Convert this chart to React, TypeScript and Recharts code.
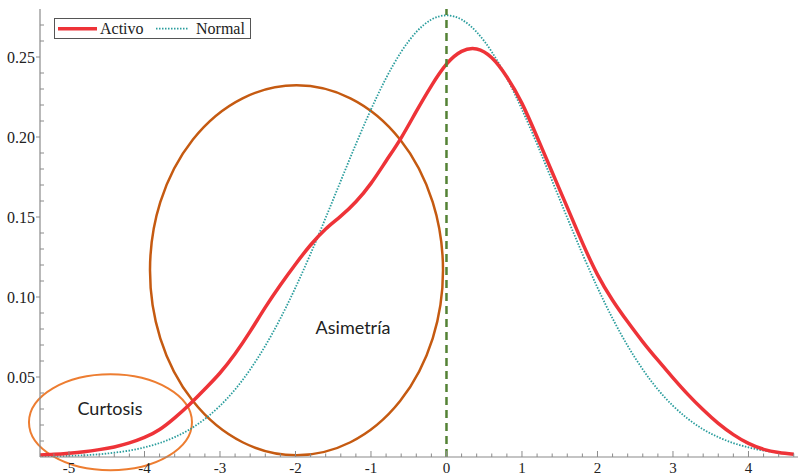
import React from 'react';
import { LineChart, Line, XAxis, YAxis, ReferenceLine, ReferenceArea, ReferenceDot, Legend } from 'recharts';

const xValues = [
  -5.4, -5.2, -5.0, -4.8, -4.6, -4.4, -4.2, -4.0, -3.8, -3.6,
  -3.4, -3.2, -3.0, -2.8, -2.6, -2.4, -2.2, -2.0, -1.8, -1.6,
  -1.4, -1.2, -1.0, -0.8, -0.6, -0.4, -0.2, 0.0, 0.2, 0.4,
  0.6, 0.8, 1.0, 1.2, 1.4, 1.6, 1.8, 2.0, 2.2, 2.4,
  2.6, 2.8, 3.0, 3.2, 3.4, 3.6, 3.8, 4.0, 4.2, 4.4, 4.6,
];

const activo = [
  0.0012, 0.0017, 0.0024, 0.0033, 0.0046, 0.0063, 0.0088, 0.0122, 0.0172, 0.0245,
  0.0330, 0.0425, 0.0525, 0.0645, 0.0785, 0.0935, 0.1075, 0.1205, 0.1325, 0.1425,
  0.1505, 0.1595, 0.1710, 0.1850, 0.1995, 0.2160, 0.2320, 0.2455, 0.2535, 0.2550,
  0.2495, 0.2375, 0.221, 0.200, 0.178, 0.156, 0.134, 0.114, 0.098, 0.0845,
  0.072, 0.0605, 0.0495, 0.039, 0.0295, 0.021, 0.014, 0.0085, 0.0048, 0.0028, 0.0017,
];

const normal = [
  0.0003, 0.0004, 0.0007, 0.0011, 0.0017, 0.0027, 0.0040, 0.0060, 0.0087, 0.0124,
  0.0173, 0.0238, 0.0320, 0.0422, 0.0547, 0.0695, 0.0866, 0.1059, 0.1270, 0.1495,
  0.1726, 0.1955, 0.2172, 0.2368, 0.2532, 0.2656, 0.2734, 0.2760, 0.2734, 0.2656,
  0.2532, 0.2368, 0.2172, 0.1955, 0.1726, 0.1495, 0.1270, 0.1059, 0.0866, 0.0695,
  0.0547, 0.0422, 0.0320, 0.0238, 0.0173, 0.0124, 0.0087, 0.0060, 0.0040, 0.0027, 0.0017,
];

const xTicks = [
  -5.2, -5.0, -4.8, -4.6, -4.4, -4.2, -4.0, -3.8, -3.6, -3.4, -3.2, -3.0,
  -2.8, -2.6, -2.4, -2.2, -2.0, -1.8, -1.6, -1.4, -1.2, -1.0, -0.8, -0.6, -0.4, -0.2,
  0.0, 0.2, 0.4, 0.6, 0.8, 1.0, 1.2, 1.4, 1.6, 1.8, 2.0, 2.2, 2.4, 2.6, 2.8, 3.0,
  3.2, 3.4, 3.6, 3.8, 4.0, 4.2, 4.4, 4.6,
];

const yTicks = [
  0.01, 0.02, 0.03, 0.04, 0.05, 0.06, 0.07, 0.08, 0.09, 0.10,
  0.11, 0.12, 0.13, 0.14, 0.15, 0.16, 0.17, 0.18, 0.19, 0.20,
  0.21, 0.22, 0.23, 0.24, 0.25, 0.26, 0.27,
];

const seriesNames = ['Activo', 'Normal'];
const annotationLabels = ['Asimetría', 'Curtosis'];

const data = xValues.map((x, i) => ({ x, activo: activo[i], normal: normal[i] }));

const AXIS = '#8a8a8a';
const SERIF = '"Liberation Serif", "DejaVu Serif", serif';

const XTick = (props: any) => {
  const { x, y, payload } = props;
  const v = payload.value as number;
  const major = Math.abs(v - Math.round(v)) < 1e-6;
  return (
    <g>
      <line x1={x} x2={x} y1={y} y2={y - (major ? 6 : 3.5)} stroke={AXIS} strokeWidth={1} />
      {major && (
        <text x={x} y={y + 15.5} textAnchor="middle" fontFamily={SERIF} fontSize={15} fill="#222">
          {String(Math.round(v))}
        </text>
      )}
    </g>
  );
};

const YTick = (props: any) => {
  const { x, y, payload } = props;
  const v = payload.value as number;
  const major = Math.round(v * 100) % 5 === 0;
  return (
    <g>
      {major ? (
        <line x1={x - 4} x2={x} y1={y} y2={y} stroke={AXIS} strokeWidth={1} />
      ) : (
        <line x1={x} x2={x + 4} y1={y} y2={y} stroke={AXIS} strokeWidth={1} />
      )}
      {major && (
        <text x={x - 5} y={y} dy="0.35em" textAnchor="end" fontFamily={SERIF} fontSize={16} fill="#222">
          {v.toFixed(2)}
        </text>
      )}
    </g>
  );
};

const renderLegend = () => (
  <svg width={197} height={21} style={{ display: 'block' }}>
    <rect x={0.5} y={0.5} width={196} height={20} fill="#fff" stroke="#555" strokeWidth={1} />
    <line x1={4} x2={43} y1={10.7} y2={10.7} stroke="#EE3338" strokeWidth={3.5} />
    <text x={46} y={15.5} fontFamily={SERIF} fontSize={16} fill="#222">{seriesNames[0]}</text>
    <line x1={102} x2={135} y1={10.7} y2={10.7} stroke="#2A9D9D" strokeWidth={1.8} strokeDasharray="1.5 1.5" />
    <text x={142} y={15.5} fontFamily={SERIF} fontSize={16} fill="#222">{seriesNames[1]}</text>
  </svg>
);

const ellipseShape = (color: string, width: number) => (p: any) => (
  <ellipse
    cx={p.x + p.width / 2}
    cy={p.y + p.height / 2}
    rx={Math.abs(p.width / 2)}
    ry={Math.abs(p.height / 2)}
    fill="none"
    stroke={color}
    strokeWidth={width}
  />
);

const textShape = (label: string) => (p: any) => (
  <text x={p.cx} y={p.cy} dy="0.35em" textAnchor="middle" fontFamily="Lato, 'Open Sans', sans-serif" fontSize={18} fill="#222">
    {label}
  </text>
);

export default function App() {
  return (
    <div style={{ position: 'absolute', left: 0, top: 0, width: 803, height: 474, background: '#fff' }}>
      <LineChart width={803} height={474} data={data} margin={{ top: 9, right: 5, bottom: 0, left: 0 }}>
        <XAxis
          dataKey="x"
          type="number"
          domain={[-5.384, 4.656]}
          allowDataOverflow
          ticks={xTicks}
          interval={0}
          tick={<XTick />}
          tickLine={false}
          tickSize={0}
          tickMargin={0}
          height={17}
          axisLine={{ stroke: AXIS, strokeWidth: 1.2 }}
        />
        <YAxis
          type="number"
          domain={[0, 0.28]}
          allowDataOverflow
          ticks={yTicks}
          interval={0}
          tick={<YTick />}
          tickLine={false}
          tickSize={0}
          tickMargin={0}
          width={40}
          axisLine={{ stroke: AXIS, strokeWidth: 1.2 }}
        />
        <Legend
          layout="vertical"
          verticalAlign="middle"
          align="center"
          content={renderLegend}
          wrapperStyle={{ left: 54, top: 18, width: 197, height: 21 }}
        />
        <Line
          type="natural"
          dataKey="normal"
          name={seriesNames[1]}
          stroke="#2A9D9D"
          strokeWidth={1.8}
          strokeDasharray="1.5 1.5"
          dot={false}
          isAnimationActive={false}
        />
        <Line
          type="natural"
          dataKey="activo"
          name={seriesNames[0]}
          stroke="#EE3338"
          strokeWidth={3.5}
          dot={false}
          isAnimationActive={false}
        />
        <ReferenceLine x={0} stroke="#548235" strokeWidth={2.5} strokeDasharray="8 5" ifOverflow="visible" />
        <ReferenceArea
          x1={-3.927}
          x2={-0.046}
          y1={0.0011}
          y2={0.2323}
          ifOverflow="visible"
          shape={ellipseShape('#C55A11', 2.5)}
        />
        <ReferenceArea
          x1={-5.53}
          x2={-3.371}
          y1={-0.0083}
          y2={0.0517}
          ifOverflow="visible"
          shape={ellipseShape('#ED7D31', 2)}
        />
        <ReferenceDot x={-1.238} y={0.081} r={0} ifOverflow="visible" shape={textShape(annotationLabels[0])} />
        <ReferenceDot x={-4.457} y={0.0304} r={0} ifOverflow="visible" shape={textShape(annotationLabels[1])} />
      </LineChart>
    </div>
  );
}
